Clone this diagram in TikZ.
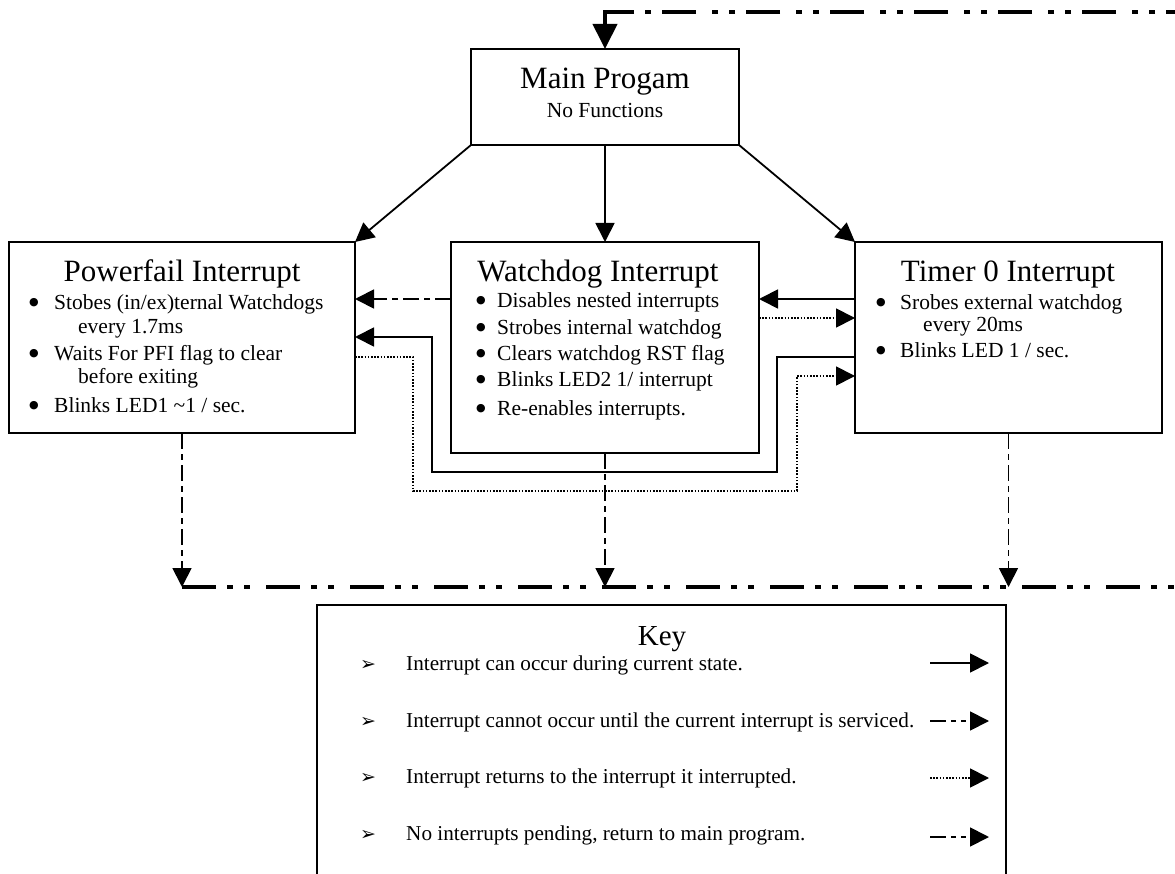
\documentclass[tikz,border=0pt]{standalone}
\usepackage{fontspec}
\setmainfont{Liberation Serif}
\newfontfamily\dejavu{DejaVu Sans}
\usetikzlibrary{arrows.meta}
\begin{document}
\begin{tikzpicture}[x=1pt,y=-1pt,
  box/.style={draw, line width=1.8pt, rectangle, inner sep=0pt, outer sep=0pt},
  conn/.style={line width=1.8pt, -{Triangle[length=19pt,width=19pt]}},
  dashdot/.style={dash pattern=on 16pt off 5pt on 6pt off 5pt},
  dotline/.style={dash pattern=on 1.6pt off 1.6pt},
  thickloop/.style={line width=4pt, dash pattern=on 34pt off 11pt on 6pt off 11pt on 6pt off 16pt},
  ttl/.style={font=\fontsize{31}{31}\selectfont, anchor=base, inner sep=0pt},
  sub/.style={font=\fontsize{21.5}{21.5}\selectfont, anchor=base, inner sep=0pt},
  txt/.style={font=\fontsize{21.5}{21.5}\selectfont, anchor=base west, inner sep=0pt},
  bul/.style={font=\dejavu\fontsize{11}{11}\selectfont, anchor=base, inner sep=0pt, yshift=4pt},
  kbul/.style={font=\dejavu\fontsize{19}{19}\selectfont, anchor=base, inner sep=0pt},
  ktxt/.style={font=\fontsize{21.2}{21.2}\selectfont, anchor=base west, inner sep=0pt}
]
\useasboundingbox (0,0) rectangle (1175,874);
\clip (0,0) rectangle (1175,874);

% boxes
\node[box, minimum width=268pt, minimum height=96pt] (main) at (605,97) {};
\node[box, minimum width=346pt, minimum height=191pt] (pf) at (182,337.5) {};
\node[box, minimum width=308pt, minimum height=211pt] (wd) at (605,347.5) {};
\node[box, minimum width=307pt, minimum height=191pt] (tm) at (1008.5,337.5) {};
\node[box, minimum width=689pt, minimum height=300pt] (key) at (661.5,755) {};

% texts main
\node[ttl] (mainT) at (605,89) {Main Progam};
\node[sub] (mainS) at (605,118) {No Functions};

% powerfail
\node[ttl] (pfT) at (182,282) {Powerfail Interrupt};
\node[bul] (pfb1) at (34,310) {●};
\node[txt] (pf1) at (54,310) {Stobes (in/ex)ternal Watchdogs};
\node[txt] (pf1b) at (78,334) {every 1.7ms};
\node[bul] (pfb2) at (34,360) {●};
\node[txt] (pf2) at (54,360) {Waits For PFI flag to clear};
\node[txt] (pf2b) at (78,384) {before exiting};
\node[bul] (pfb3) at (34,412) {●};
\node[txt] (pf3) at (54,412) {Blinks LED1 \textasciitilde1 / sec.};

% watchdog
\node[ttl] (wdT) at (598,282) {Watchdog Interrupt};
\node[bul] (wdb1) at (481,308) {●};
\node[txt] (wd1) at (497,308) {Disables nested interrupts};
\node[bul] (wdb2) at (481,335) {●};
\node[txt] (wd2) at (497,335) {Strobes internal watchdog};
\node[bul] (wdb3) at (481,361) {●};
\node[txt] (wd3) at (497,361) {Clears watchdog RST flag};
\node[bul] (wdb4) at (481,387) {●};
\node[txt] (wd4) at (497,387) {Blinks LED2 1/ interrupt};
\node[bul] (wdb5) at (481,415) {●};
\node[txt] (wd5) at (497,415) {Re-enables interrupts.};

% timer
\node[ttl] (tmT) at (1008,282) {Timer 0 Interrupt};
\node[bul] (tmb1) at (881,310) {●};
\node[txt] (tm1) at (900,310) {Srobes external watchdog};
\node[txt] (tm1b) at (923,332) {every 20ms};
\node[bul] (tmb2) at (881,358) {●};
\node[txt] (tm2) at (900,358) {Blinks LED 1 / sec.};

% key
\node[ttl, font=\fontsize{29}{29}\selectfont] (keyT) at (662,645) {Key};
\node[kbul] (kb1) at (368,670) {➢};
\node[ktxt] (k1) at (406,670) {Interrupt can occur during current state.};
\node[kbul] (kb2) at (368,727) {➢};
\node[ktxt] (k2) at (406,727) {Interrupt cannot occur until the current interrupt is serviced.};
\node[kbul] (kb3) at (368,783) {➢};
\node[ktxt] (k3) at (406,783) {Interrupt returns to the interrupt it interrupted.};
\node[kbul] (kb4) at (368,840) {➢};
\node[ktxt] (k4) at (406,840) {No interrupts pending, return to main program.};

% helper coordinates
\coordinate (y299) at (0,299);
\coordinate (y318) at (0,318);
\coordinate (y337) at (0,337);
\coordinate (y357) at (0,357);
\coordinate (y376) at (0,376);
\coordinate (y587) at (0,587);
\coordinate (s1) at (777,357);
\coordinate (s2) at (777,472);
\coordinate (s3) at (432,472);
\coordinate (s4) at (432,337);
\coordinate (d1) at (413,357);
\coordinate (d2) at (413,491);
\coordinate (d3) at (797,491);
\coordinate (d4) at (797,376);
\coordinate (offB) at (1200,587);
\coordinate (offT) at (1200,12);
\coordinate (corner) at (605,12);
\coordinate (cornerR) at (632,12);

% main to interrupts
\draw[conn] (main.south west) -- (pf.north east);
\draw[conn] (main.south) -- (wd.north);
\draw[conn] (main.south east) -- (tm.north west);

% between interrupts
\draw[conn, dashdot] (wd.west |- y299) -- (pf.east |- y299);
\draw[conn] (tm.west |- y299) -- (wd.east |- y299);
\draw[conn, dotline] (wd.east |- y318) -- (tm.west |- y318);
\draw[conn] (tm.west |- y357) -- (s1) -- (s2) -- (s3) -- (s4) -- (pf.east |- y337);
\draw[conn, dotline] (pf.east |- y357) -- (d1) -- (d2) -- (d3) -- (d4) -- (tm.west |- y376);

% returns
\draw[conn, dashdot] (pf.south) -- (pf.south |- y587);
\draw[conn, dashdot] (wd.south) -- (wd.south |- y587);
\draw[conn, dashdot] (tm.south) -- (tm.south |- y587);
\draw[thickloop] (pf.south |- y587) -- (offB);
\draw[thickloop] (offT) -- (cornerR);
\draw[line width=4pt, -{Triangle[length=25pt,width=24pt]}] (cornerR) -- (corner) -- (main.north);

% key arrows
\coordinate (ka1) at (930,663); \coordinate (kz1) at (989,663);
\coordinate (ka2) at (930,721); \coordinate (kz2) at (989,721);
\coordinate (ka3) at (930,778); \coordinate (kz3) at (989,778);
\coordinate (ka4) at (930,837); \coordinate (kz4) at (989,837);
\draw[conn] (ka1) -- (kz1);
\draw[conn, dash pattern=on 16pt off 5pt on 5pt off 5pt on 5pt off 5pt] (ka2) -- (kz2);
\draw[conn, dotline] (ka3) -- (kz3);
\draw[conn, dash pattern=on 16pt off 5pt on 5pt off 5pt on 5pt off 5pt] (ka4) -- (kz4);
\end{tikzpicture}
\end{document}
